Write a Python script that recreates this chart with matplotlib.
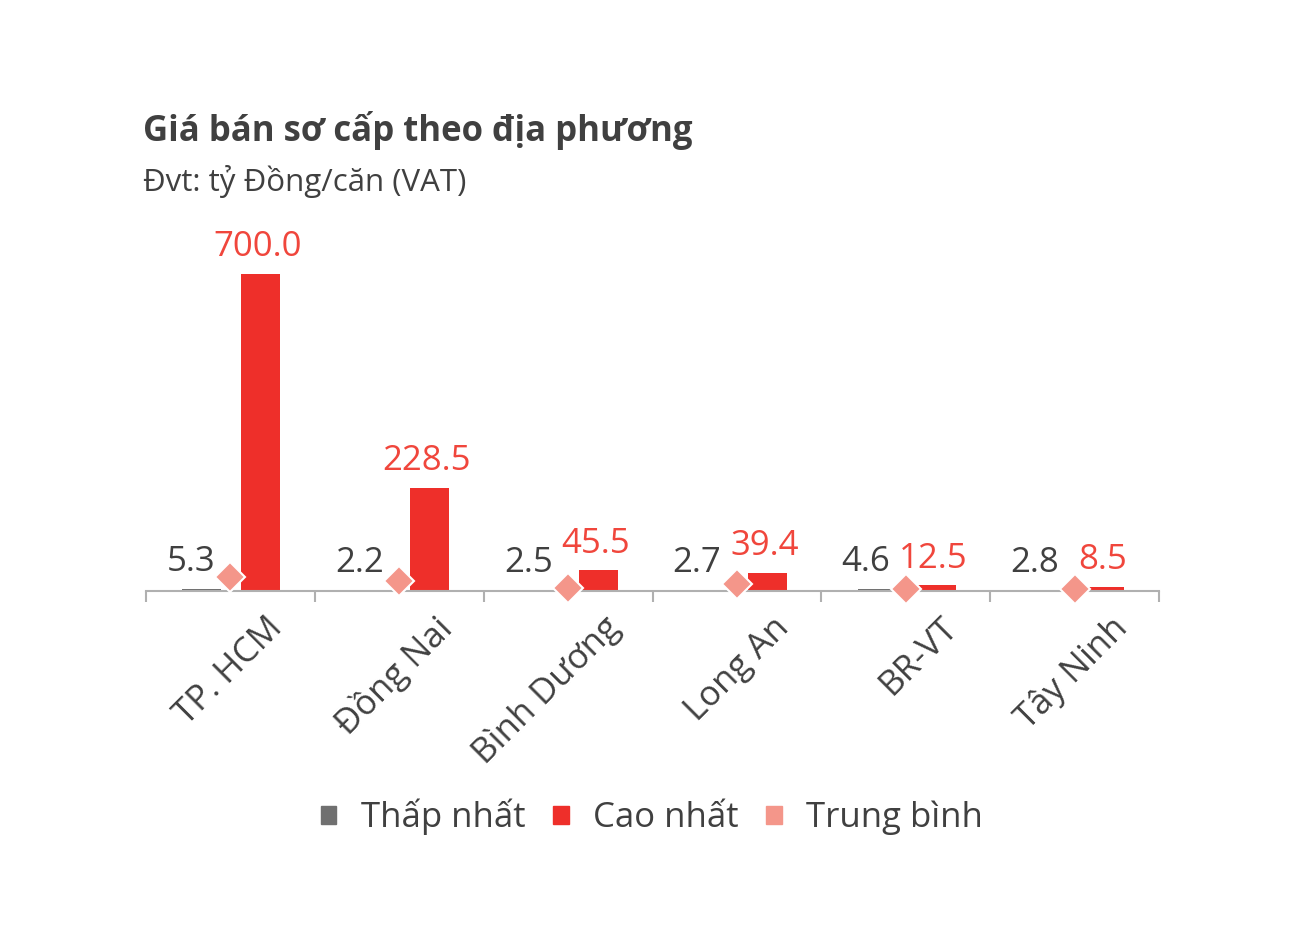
import numpy as np
import matplotlib.pyplot as plt
from matplotlib.patches import Patch
from matplotlib.transforms import ScaledTranslation

plt.rcParams['font.family'] = ['Open Sans', 'Noto Sans', 'DejaVu Sans']

regions = ['TP. HCM', 'Đồng Nai', 'Bình Dương', 'Long An', 'BR-VT', 'Tây Ninh']
thap_nhat = [5.3, 2.2, 2.5, 2.7, 4.6, 2.8]
cao_nhat = [700.0, 228.5, 45.5, 39.4, 12.5, 8.5]
trung_binh = [31, 22, 7, 15, 5, 4]

c_gray = '#707070'
c_red = '#ee2f2a'
c_pink = '#f4968a'
c_text = '#404040'
c_redtext = '#f0463c'

fig = plt.figure(figsize=(13.1, 9.48), dpi=100)
ax = fig.add_axes([146 / 1310, 1 - 591 / 948, (1159 - 146) / 1310, (591 - 274) / 948])

x = np.arange(len(regions))
w = 0.23
ax.bar(x - 0.17, thap_nhat, w, color=c_gray, zorder=2)
ax.bar(x + 0.18, cao_nhat, w, color=c_red, zorder=2)
ax.plot(x, trung_binh, linestyle='', marker='D', markersize=15, color=c_pink,
        markeredgecolor='white', markeredgewidth=1.5, zorder=3, clip_on=False)

for i in range(len(regions)):
    ax.annotate(f'{thap_nhat[i]:.1f}', (x[i] - 0.17, thap_nhat[i]), xytext=(-8, 7),
                textcoords='offset points', ha='center', va='bottom',
                fontsize=25, color=c_text)
    ax.annotate(f'{cao_nhat[i]:.1f}', (x[i] + 0.18, cao_nhat[i]), xytext=(-2, 7),
                textcoords='offset points', ha='center', va='bottom',
                fontsize=25, color=c_redtext)

ax.set_xlim(-0.5, len(regions) - 0.5)
ax.set_ylim(0, 700)
ax.set_yticks([])
for s in ['top', 'right', 'left']:
    ax.spines[s].set_visible(False)
ax.spines['bottom'].set_color('#b0b0b0')
ax.spines['bottom'].set_linewidth(1.5)

ax.set_xticks(x)
ax.set_xticklabels(regions, rotation=45, ha='right', va='top', fontsize=25, color=c_text,
                   rotation_mode='anchor')
ax.tick_params(axis='x', which='major', length=0, pad=14)
ax.set_xticks(np.arange(-0.5, len(regions)), minor=True)
ax.tick_params(axis='x', which='minor', length=8, width=1.5, color='#b0b0b0', direction='out')
for lab in ax.get_xticklabels():
    lab.set_transform(lab.get_transform() + ScaledTranslation(0.35, 0, fig.dpi_scale_trans))

fig.text(143 / 1310, 1 - 130 / 948, 'Giá bán sơ cấp theo địa phương', fontsize=25,
         fontweight='bold', color=c_text, va='center', ha='left')
fig.text(143 / 1310, 1 - 181 / 948, 'Đvt: tỷ Đồng/căn (VAT)', fontsize=22.5,
         color=c_text, va='center', ha='left')

handles = [Patch(color=c_gray), Patch(color=c_red), Patch(color=c_pink)]
fig.legend(handles, ['Thấp nhất', 'Cao nhất', 'Trung bình'], loc='center',
           bbox_to_anchor=(652 / 1310, 1 - 817 / 948), ncol=3, frameon=False,
           fontsize=25, handlelength=0.45, handleheight=0.45, handletextpad=0.7,
           columnspacing=0.8, labelcolor=c_text)

fig.savefig('out.png', dpi=100, facecolor='white')
